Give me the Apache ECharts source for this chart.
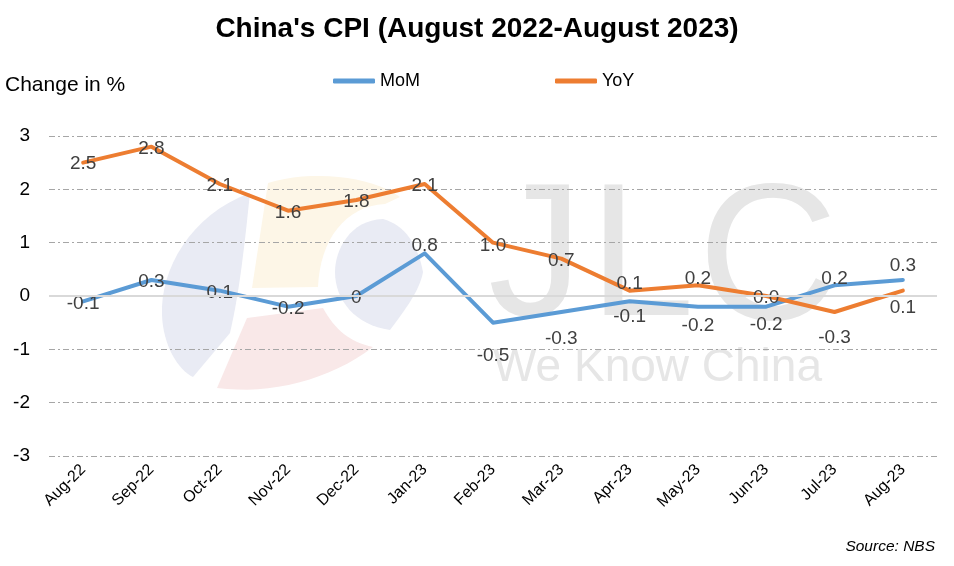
<!DOCTYPE html>
<html>
<head>
<meta charset="utf-8">
<script src="https://cdn.jsdelivr.net/npm/echarts@6/dist/echarts.min.js"></script>
<style>html,body{margin:0;padding:0;background:#fff;}#c{width:954px;height:566px;}</style>
</head>
<body>
<div id="c"></div>
<script>
var categories = ['Aug-22','Sep-22','Oct-22','Nov-22','Dec-22','Jan-23','Feb-23','Mar-23','Apr-23','May-23','Jun-23','Jul-23','Aug-23'];
var momValues = [-0.1, 0.3, 0.1, -0.2, 0, 0.8, -0.5, -0.3, -0.1, -0.2, -0.2, 0.2, 0.3];
var yoyValues = [2.5, 2.8, 2.1, 1.6, 1.8, 2.1, 1.0, 0.7, 0.1, 0.2, 0.0, -0.3, 0.1];
var yTicks = [-3, -2, -1, 0, 1, 2, 3];

// label vertical offsets (px) relative to the point, as placed in the original
var momLabelDy = [2, 2, 2, 2, 2, -8, 33, 27, 15, 19, 18, -7, -14];
var yoyLabelDy = [1, 2, 2, 2, 2, 2, 3, 2, -7, -7, 2, 26, 17];

var FONT = 'Liberation Sans, Arial, sans-serif';

function buildData(vals, dys, fmt) {
  return vals.map(function (v, i) {
    return { value: v, label: { offset: [0, dys[i]], formatter: fmt(v) } };
  });
}

// sample a simple SVG path (M, L, C, Z) into polygon points for the watermark logo
function pathPoints(d) {
  var tok = d.match(/[MLCZ]|-?[\d.]+/g), pts = [], i = 0, cur = [0, 0], cmd;
  while (i < tok.length) {
    if (/[MLCZ]/.test(tok[i])) { cmd = tok[i++]; if (cmd === 'Z') continue; }
    if (cmd === 'M' || cmd === 'L') {
      cur = [+tok[i], +tok[i + 1]]; i += 2; pts.push(cur);
    } else if (cmd === 'C') {
      var p1 = [+tok[i], +tok[i + 1]], p2 = [+tok[i + 2], +tok[i + 3]], p3 = [+tok[i + 4], +tok[i + 5]];
      i += 6;
      for (var t = 1; t <= 16; t++) {
        var s = t / 16, a = (1 - s) * (1 - s) * (1 - s), b = 3 * (1 - s) * (1 - s) * s, c = 3 * (1 - s) * s * s, e = s * s * s;
        pts.push([a * cur[0] + b * p1[0] + c * p2[0] + e * p3[0], a * cur[1] + b * p1[1] + c * p2[1] + e * p3[1]]);
      }
      cur = p3;
    }
  }
  return pts;
}
function logoPart(d, color) {
  return { type: 'polygon', z: -10, silent: true, shape: { points: pathPoints(d) }, style: { fill: color } };
}
function wmText(txt, left, top, size) {
  return { type: 'text', z: -10, silent: true, left: left, top: top, style: { text: txt, font: size + 'px ' + FONT, fill: '#e6e6e6' } };
}

var chart = echarts.init(document.getElementById('c'), null, { renderer: 'canvas' });
chart.setOption({
  backgroundColor: '#ffffff',
  animation: false,
  title: {
    text: "China's CPI (August 2022-August 2023)",
    left: 'center',
    top: 10,
    textStyle: { fontFamily: FONT, fontWeight: 'bold', fontSize: 28, color: '#000' }
  },
  legend: {
    data: ['MoM', 'YoY'],
    left: 333,
    top: 72,
    padding: 0,
    itemWidth: 42,
    itemHeight: 5,
    itemGap: 135,
    icon: 'roundRect',
    textStyle: { fontFamily: FONT, fontSize: 18, color: '#000' }
  },
  grid: { left: 49, right: 17, top: 136, bottom: 110 },
  xAxis: {
    type: 'category',
    data: categories,
    boundaryGap: true,
    axisLine: { show: false },
    axisTick: { show: false },
    axisLabel: { rotate: 45, fontFamily: FONT, fontSize: 16, color: '#000', margin: 11, interval: 0 }
  },
  yAxis: {
    type: 'value',
    min: yTicks[0],
    max: yTicks[yTicks.length - 1],
    interval: 1,
    axisLine: { show: false },
    axisTick: { show: false },
    axisLabel: { fontFamily: FONT, fontSize: 19, color: '#000', margin: 19 },
    splitLine: {
      lineStyle: { color: '#a6a6a6', width: 1, type: [6, 3, 2, 3] }
    }
  },
  graphic: [
    logoPart('M250,193 C190,215 160,270 162,315 C163,345 178,370 193,377 L230,333 C240,290 245,240 250,193 Z', '#e9ebf4'),
    logoPart('M268,183 C310,170 370,175 400,197 L385,204 C345,206 320,240 318,287 L252,288 Z', '#fdf6e7'),
    logoPart('M247,318 L323,308 C335,330 350,342 373,347 C330,380 270,395 217,388 Z', '#f9e8e8'),
    logoPart('M383,219 C350,220 335,250 335,272 C335,300 355,325 390,330 C405,310 420,290 423,272 C418,245 405,225 383,219 Z', '#e9ebf4'),
    wmText('J', 488, 168, 190),
    wmText('L', 589, 168, 190),
    wmText('C', 698, 168, 194),
    wmText('We Know China', 493, 345, 46),
    { type: 'text', left: 5, top: 75, style: { text: 'Change in %', font: '21px ' + FONT, fill: '#000' } },
    { type: 'text', right: 19, top: 539, style: { text: 'Source: NBS', font: 'italic 15.5px ' + FONT, fill: '#000' } }
  ],
  series: [
    {
      name: 'MoM',
      type: 'line',
      data: buildData(momValues, momLabelDy, function (v) { return String(v); }),
      symbol: 'circle',
      symbolSize: 0.01,
      showSymbol: true,
      lineStyle: { color: '#5b9bd5', width: 4, cap: 'round', join: 'round' },
      itemStyle: { color: '#5b9bd5' },
      label: { show: true, position: 'inside', fontFamily: FONT, fontSize: 19, color: '#404040' },
      markLine: {
        silent: true, symbol: 'none', label: { show: false },
        lineStyle: { color: '#d9d9d9', width: 2, type: 'solid' },
        data: [{ yAxis: 0 }]
      },
      z: 3
    },
    {
      name: 'YoY',
      type: 'line',
      data: buildData(yoyValues, yoyLabelDy, function (v) { return v.toFixed(1); }),
      symbol: 'circle',
      symbolSize: 0.01,
      showSymbol: true,
      lineStyle: { color: '#ed7d31', width: 4, cap: 'round', join: 'round' },
      itemStyle: { color: '#ed7d31' },
      label: { show: true, position: 'inside', fontFamily: FONT, fontSize: 19, color: '#404040' },
      z: 3
    }
  ]
});
</script>
</body>
</html>
